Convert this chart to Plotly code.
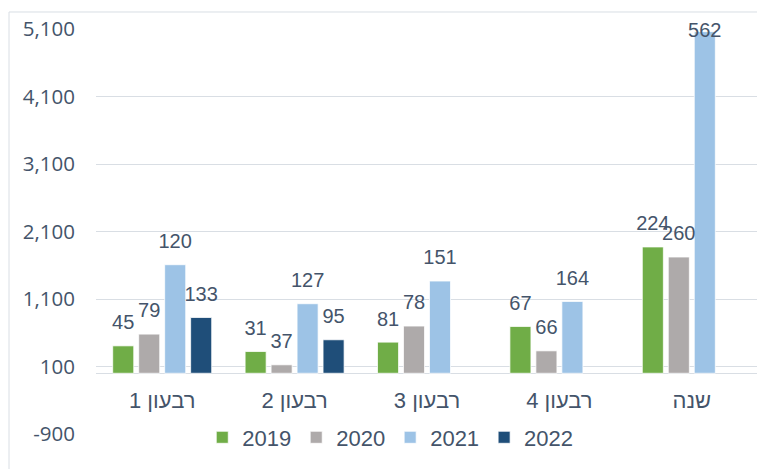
import plotly.graph_objects as go

# ---------------- data ----------------
CATEGORIES = ["רבעון 1", "רבעון 2", "רבעון 3", "רבעון 4", "שנה"]
SERIES_NAMES = ["2019", "2020", "2021", "2022"]

VALUES_2019 = [406, 322, 461, 693, 1871]
VALUES_2020 = [580, 125, 699, 332, 1722]
VALUES_2021 = [1608, 1030, 1366, 1064, 5061]
VALUES_2022 = [826, 496, None, None, None]

LABELS_2019 = ["45", "31", "81", "67", "224"]
LABELS_2020 = ["79", "37", "78", "66", "260"]
LABELS_2021 = ["120", "127", "151", "164", "562"]
LABELS_2022 = ["133", "95", "", "", ""]

Y_TICKS = [-900, 100, 1100, 2100, 3100, 4100, 5100]
Y_TICK_LABELS = ["-900", "100", "1,100", "2,100", "3,100", "4,100", "5,100"]

# ---------------- style ----------------
COLORS = ["#70AD47", "#AEAAAA", "#9DC3E6", "#1F4E79"]
TEXT_COLOR = "#44546A"
GRID_COLOR = "#D9DEE4"
Y_MIN, Y_MAX = Y_TICKS[0], Y_TICKS[-1]

values = [VALUES_2019, VALUES_2020, VALUES_2021, VALUES_2022]
labels = [LABELS_2019, LABELS_2020, LABELS_2021, LABELS_2022]

# right-to-left display of the Hebrew category labels (RLE ... PDF)
cats = ["\u202b" + c + "\u202c" for c in CATEGORIES]

fig = go.Figure()

for name, vals, col in zip(SERIES_NAMES, values, COLORS):
    fig.add_trace(go.Bar(
        x=cats, y=vals, name=name, offsetgroup=name,
        marker=dict(color=col, line=dict(color="white", width=0.75)),
        hoverinfo="skip",
    ))

LABEL_ROOM = 450  # data units needed above a bar for its label
for name, vals, labs in zip(SERIES_NAMES, values, labels):
    positions = [
        "middle center" if (v is not None and v + LABEL_ROOM > Y_MAX) else "top center"
        for v in vals
    ]
    fig.add_trace(go.Scatter(
        x=cats, y=vals, text=labs, mode="markers+text",
        offsetgroup=name, showlegend=False, hoverinfo="skip",
        marker=dict(size=17, color="rgba(0,0,0,0)"),
        textposition=positions,
        textfont=dict(family="Liberation Sans, Arial", size=20, color=TEXT_COLOR),
        cliponaxis=False,
    ))

zero_pos = (0 - Y_MIN) / (Y_MAX - Y_MIN)

# the page body has an 8px margin, so the figure is sized to fit the window
fig.update_layout(
    width=757, height=461,
    margin=dict(l=88, r=7, t=21, b=35),
    paper_bgcolor="white", plot_bgcolor="white",
    barmode="group", bargap=0.215, bargroupgap=0.19,
    scattermode="group", scattergap=0.215,
    font=dict(family="Liberation Sans, Arial", color=TEXT_COLOR),
    showlegend=True,
    legend=dict(
        orientation="h", x=0.1605, xanchor="left", y=-0.0086, yanchor="middle",
        bgcolor="rgba(0,0,0,0)", font=dict(family="Liberation Sans, Arial", size=22, color=TEXT_COLOR),
        traceorder="normal",
    ),
    xaxis=dict(
        type="category", anchor="free", position=zero_pos,
        showgrid=False, showline=False, zeroline=False, ticks="",
        tickfont=dict(family="Liberation Sans, Arial", size=22, color=TEXT_COLOR),
        ticklabelstandoff=12,
    ),
    yaxis=dict(
        range=[Y_MIN, Y_MAX], tickvals=Y_TICKS, ticktext=Y_TICK_LABELS,
        showgrid=True, gridcolor=GRID_COLOR, gridwidth=1,
        zeroline=True, zerolinecolor=GRID_COLOR, zerolinewidth=1,
        showline=False, ticks="",
        tickfont=dict(family="Open Sans", size=20.5, color=TEXT_COLOR),
        ticklabelstandoff=20,
    ),
    shapes=[dict(
        type="rect", xref="paper", yref="paper",
        x0=-0.1314, x1=1.03, y0=-0.12, y1=1.042,
        line=dict(color=GRID_COLOR, width=1), fillcolor="rgba(0,0,0,0)", layer="below",
    )],
)

fig.write_html("out.html")
